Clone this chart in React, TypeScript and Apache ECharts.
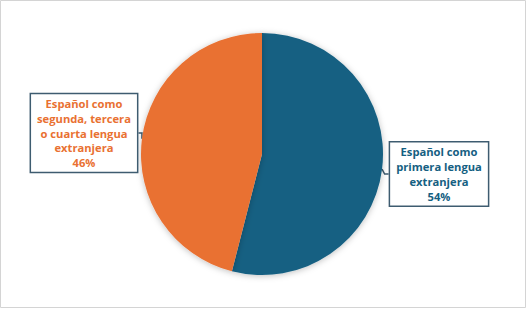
import React, { useEffect, useRef } from "react";
import * as echarts from "echarts";

const categories = [
  "Español como\nprimera lengua\nextranjera",
  "Español como\nsegunda, tercera\no cuarta lengua\nextranjera",
];
const values = [54, 46];
const colors = ["#156082", "#E97132"];

export default function App() {
  const ref = useRef<HTMLDivElement>(null);
  useEffect(() => {
    const chart = echarts.init(ref.current!, null, { renderer: "svg" });
    const data = categories.map((name, i) => ({
      name,
      value: values[i],
      itemStyle: { color: colors[i] },
      label: { color: colors[i] },
    }));
    chart.setOption({
      animation: false,
      backgroundColor: "#ffffff",
      graphic: [
        {
          type: "rect",
          shape: { x: 0.5, y: 0.5, width: 525, height: 307 },
          style: { fill: "none", stroke: "#d4d4d4", lineWidth: 1 },
          silent: true,
        },
      ],
      series: [
        {
          type: "pie",
          center: [262, 154],
          radius: [0, 121],
          startAngle: 90,
          clockwise: true,
          data,
          itemStyle: {
            shadowBlur: 6,
            shadowColor: "rgba(0,0,0,0.25)",
            shadowOffsetY: 1,
          },
          label: {
            show: true,
            position: "outside",
            formatter: (p: any) => `${p.name}\n${p.percent.toFixed(0)}%`,
            fontFamily: "Open Sans",
            fontWeight: "bold",
            fontSize: 11.2,
            lineHeight: 14.7,
            align: "center",
            backgroundColor: "#ffffff",
            borderColor: "#3e5c70",
            borderWidth: 1.5,
            padding: [2, 6, 2, 6],
          },
          labelLine: {
            show: true,
            length: 4,
            length2: 4,
            lineStyle: { color: "#3e5c70", width: 1.5 },
          },
          labelLayout: (p: any) => {
            if (p.dataIndex === 0) {
              return { x: 439, y: 174, align: "center", verticalAlign: "middle" };
            }
            return { x: 84, y: 133, align: "center", verticalAlign: "middle" };
          },
        },
      ],
    });
    return () => chart.dispose();
  }, []);
  return (
    <div
      ref={ref}
      style={{ position: "fixed", left: 0, top: 0, width: 527, height: 309 }}
    />
  );
}
